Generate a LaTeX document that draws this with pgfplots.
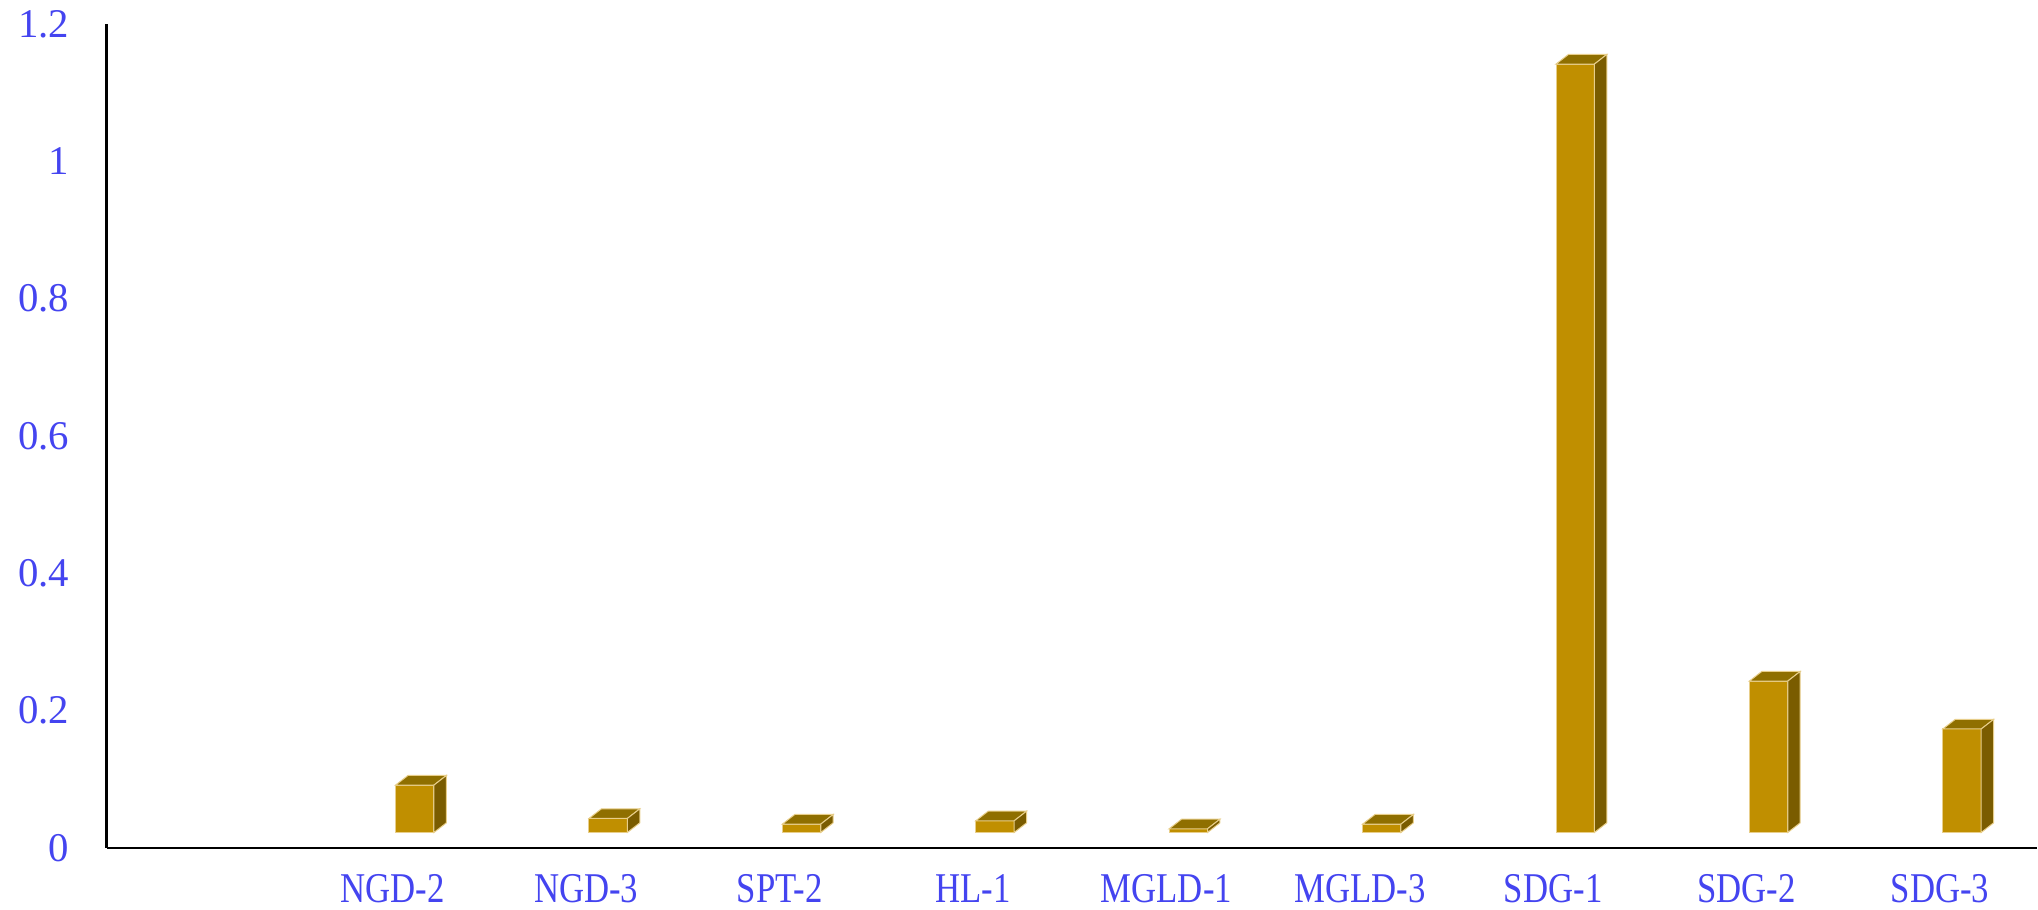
\documentclass[border=0pt]{standalone}
\usepackage{fontspec}
\setmainfont{Liberation Serif}
\newfontfamily\condensed[FakeStretch=0.82]{Liberation Serif}
\usepackage{pgfplots}
\usepackage{pgfplotstable}
\pgfplotsset{compat=1.18}
\definecolor{frontcol}{RGB}{192,143,0}
\definecolor{topcol}{RGB}{143,111,0}
\definecolor{sidecol}{RGB}{122,92,0}
\definecolor{edgecol}{RGB}{232,206,138}
\definecolor{labelblue}{RGB}{68,68,240}

% x: category index, b: offset of the 3D floor, h: bar height
\pgfplotstableread{
x b h
1 0.0226 0.0690
2 0.0226 0.0204
3 0.0226 0.0122
4 0.0226 0.0170
5 0.0226 0.0054
6 0.0226 0.0122
7 0.0226 1.1190
8 0.0226 0.2205
9 0.0226 0.1507
}\data

\begin{document}
\begin{tikzpicture}
\begin{axis}[
  x=48.375pt, y=171.75pt,
  xmin=-0.48, xmax=9.5,
  ymin=0, ymax=1.2,
  axis x line=bottom, axis y line=left,
  axis line style={-, line width=0.65pt, black},
  major tick length=0pt,
  ytick={0,0.2,0.4,0.6,0.8,1,1.2},
  yticklabels={0,0.2,0.4,0.6,0.8,1,1.2},
  xtick={0,1,2,3,4,5,6,7,8,9},
  xticklabels={,NGD-2,NGD-3,SPT-2,HL-1,MGLD-1,MGLD-3,SDG-1,SDG-2,SDG-3},
  yticklabel style={font=\fontsize{10.2}{12}\selectfont, text=labelblue, anchor=east, inner sep=0pt, xshift=-9.15pt},
  xticklabel style={font=\condensed\fontsize{10.6}{12}\selectfont, text=labelblue, anchor=north, inner sep=0pt, yshift=-6.5pt},
  ybar stacked,
  bar width=9.6pt,
  bar shift=5.5pt,
  clip=false,
]
\addplot[draw=none, fill=none] table[x=x, y=b] {\data};
\addplot[
  fill=frontcol, draw=edgecol, line width=0.25pt,
  scatter, mark=*,
  visualization depends on={rawy \as \hh},
  scatter/@pre marker code/.code={%
    \pgfmathsetmacro\Hb{2.4-\hh*171.75}%
    \pgfmathsetmacro\Hf{-\hh*171.75}%
    \filldraw[fill=topcol, draw=edgecol, line width=0.25pt]
      (0.7pt,0pt) -- (10.3pt,0pt) -- (13.4pt,2.4pt) -- (3.8pt,2.4pt) -- cycle;
    \filldraw[fill=sidecol, draw=edgecol, line width=0.25pt]
      (10.3pt,0pt) -- (13.4pt,2.4pt) -- (13.4pt,\Hb pt) -- (10.3pt,\Hf pt) -- cycle;
    \begin{scope}[opacity=0]%
  },
  scatter/@post marker code/.code={\end{scope}},
] table[x=x, y=h] {\data};
\path[draw=none] (rel axis cs:0,0) ++(-26.65pt,-15.4pt) rectangle ([yshift=6pt]rel axis cs:1,1);
\end{axis}
\end{tikzpicture}
\end{document}
